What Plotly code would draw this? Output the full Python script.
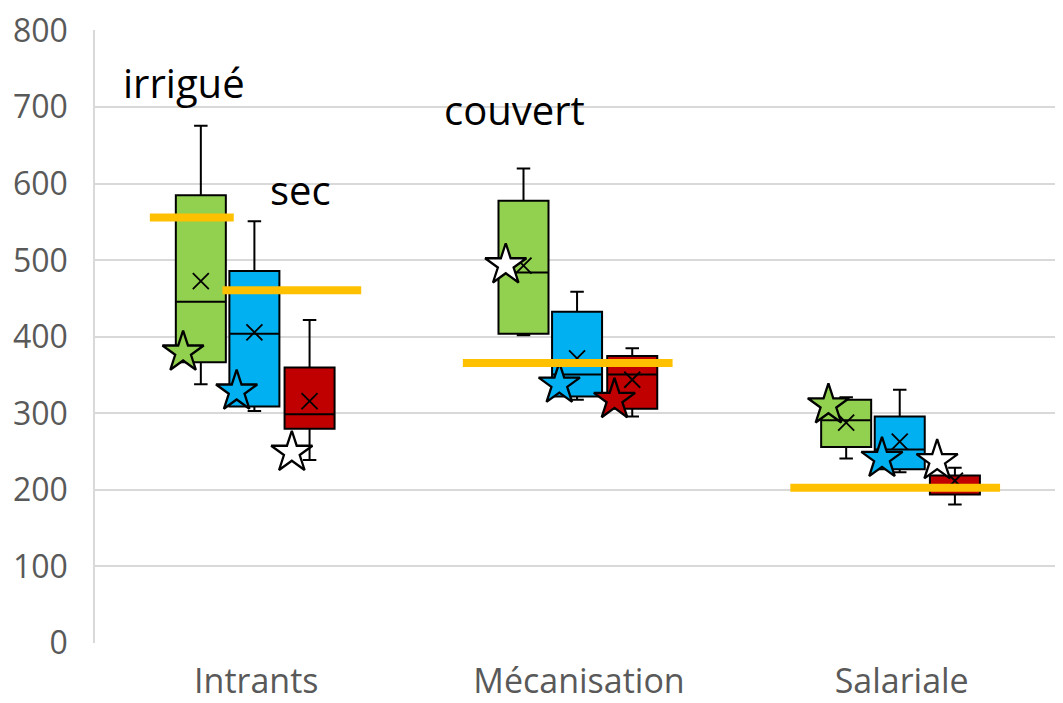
import plotly.graph_objects as go

categories = ["Intrants", "Mécanisation", "Salariale"]
series_names = ["irrigué", "sec", "couvert"]
series_colors = ["#92D050", "#00B0F0", "#C00000"]

# box statistics per series, in category order
upper = [[676, 620, 321], [551, 459, 331], [422, 385, 229]]
q3 = [[585, 578, 318], [486, 433, 296], [360, 375, 219]]
median = [[446, 484, 291], [404, 351, 253], [299, 351, 205]]
q1 = [[367, 404, 256], [309, 322, 227], [280, 306, 194]]
lower = [[338, 402, 241], [303, 318, 223], [239, 296, 181]]
mean = [[473, 493, 288], [406, 372, 263], [316, 344, 212]]

# star markers per series, in category order
star_values = [[380, 494, 311], [329, 338, 241], [249, 318, 238]]
star_fills = [["#92D050", "#FFFFFF", "#92D050"],
              ["#00B0F0", "#00B0F0", "#00B0F0"],
              ["#FFFFFF", "#C00000", "#FFFFFF"]]

# reference levels (yellow bars)
ref_categories = ["Intrants", "Intrants", "Mécanisation", "Salariale"]
ref_values = [556, 461, 366, 203]

yticks = [0, 100, 200, 300, 400, 500, 600, 700, 800]

# layout constants
box_offsets = [-0.172, -0.006, 0.165]
box_width = 0.155
star_shift = -0.055
ref_extent = [(-0.33, -0.07), (-0.105, 0.325), (-0.36, 0.29), (-0.345, 0.305)]

fig = go.Figure()
for s in range(3):
    xs = [i + box_offsets[s] for i in range(len(categories))]
    fig.add_trace(go.Box(
        x=xs, q1=q1[s], median=median[s], q3=q3[s],
        lowerfence=lower[s], upperfence=upper[s],
        width=box_width, whiskerwidth=0.27,
        fillcolor=series_colors[s],
        line=dict(color="black", width=2),
        marker=dict(opacity=0), boxpoints=False,
        name=series_names[s], showlegend=False, hoverinfo="skip",
    ))
    fig.add_trace(go.Scatter(
        x=xs, y=mean[s], mode="markers",
        marker=dict(symbol="x-thin", size=16, line=dict(color="black", width=1.8)),
        showlegend=False, hoverinfo="skip",
    ))

for s in range(3):
    xs = [i + box_offsets[s] + star_shift for i in range(len(categories))]
    fig.add_trace(go.Scatter(
        x=xs, y=star_values[s], mode="markers",
        marker=dict(symbol="star", size=31, color=star_fills[s],
                    line=dict(color="black", width=2.3)),
        showlegend=False, hoverinfo="skip",
    ))

for k, (cat, val) in enumerate(zip(ref_categories, ref_values)):
    c = categories.index(cat)
    a, b = ref_extent[k]
    fig.add_trace(go.Scatter(
        x=[c + a, c + b], y=[val, val], mode="lines",
        line=dict(color="#FFC000", width=8),
        showlegend=False, hoverinfo="skip",
    ))

ann_font = dict(family="Open Sans", size=40, color="black")
fig.add_annotation(x=-0.225, y=732, xref="x", yref="y", text="irrigué",
                   showarrow=False, font=ann_font)
fig.add_annotation(x=0.137, y=592, xref="x", yref="y", text="sec",
                   showarrow=False, font=ann_font)
fig.add_annotation(x=0.80, y=697, xref="x", yref="y", text="couvert",
                   showarrow=False, font=ann_font)

# the page body adds an 8 px offset, so the figure is sized to end at the window edge
fig.update_layout(
    width=1055, height=695,
    margin=dict(l=87, r=0, t=22, b=60, autoexpand=False),
    paper_bgcolor="white", plot_bgcolor="white",
    font=dict(family="Open Sans", color="#595959"),
)
fig.update_xaxes(
    range=[-0.5, 2.5], tickvals=list(range(len(categories))), ticktext=categories,
    tickfont=dict(size=34, color="#595959"),
    showgrid=False, zeroline=False, showline=False,
    ticks="", ticklabelstandoff=15, automargin=False, ticklabeloverflow="allow",
)
fig.update_yaxes(
    range=[0, 801], tickvals=yticks,
    tickfont=dict(size=32, color="#595959"),
    showgrid=True, gridcolor="#D9D9D9", gridwidth=1.5,
    zeroline=False, showline=True, linecolor="#D9D9D9", linewidth=1.5,
    ticks="", ticklabelstandoff=19, automargin=False, ticklabeloverflow="allow",
)
fig.write_html("out.html")
